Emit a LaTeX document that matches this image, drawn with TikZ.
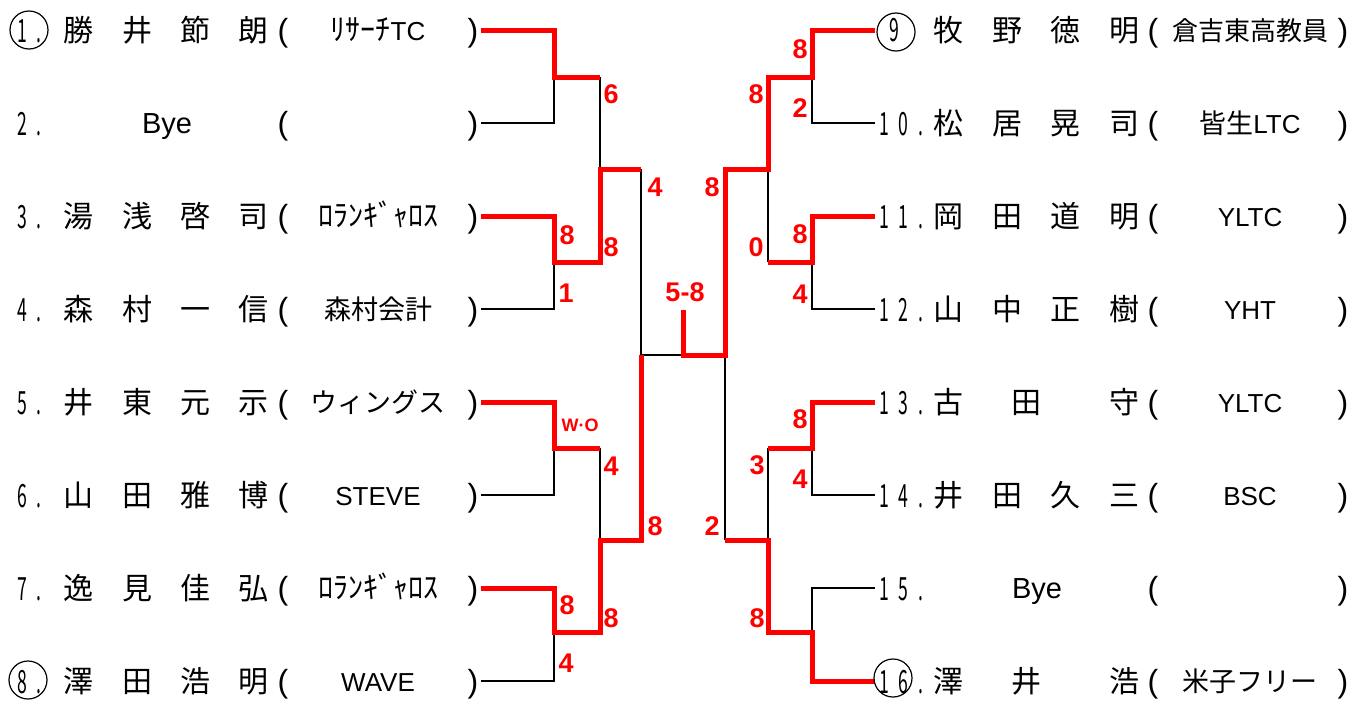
\documentclass[tikz,border=0pt]{standalone}
\usepackage{fontspec}
\setmainfont{Liberation Sans}
\newfontfamily\jp{Noto Sans CJK JP}
\newfontfamily\jpnum{Noto Sans CJK JP}[FakeStretch=0.55,LetterSpace=31]
\newcommand\hw{\jp\fontsize{30}{30}\selectfont}

\begin{document}
\begin{tikzpicture}[x=1pt,y=-1pt,
  win/.style={draw=red, line width=5pt},
  lose/.style={draw=black, line width=2.5pt},
  pt/.style={font=\jp\fontsize{30}{30}\selectfont, anchor=base, inner sep=0pt},
  no/.style={font=\jpnum\fontsize{32}{32}\selectfont, anchor=base west, inner sep=0pt},
  club/.style={font=\fontsize{26}{26}\selectfont, anchor=base, inner sep=0pt},
  paren/.style={font=\fontsize{32}{32}\selectfont, anchor=base, inner sep=0pt},
  score/.style={text=red, font=\bfseries\fontsize{27}{27}\selectfont, inner sep=0pt},
  seed/.style={circle, draw, line width=1.2pt, minimum size=38pt, inner sep=0pt}
]
\useasboundingbox (0,0) rectangle (1367,702);

% line ends of the players
\foreach \i in {1,...,8} \coordinate (p\i) at (481,93*\i-63);
\foreach \i in {9,...,16} \coordinate (p\i) at (875,93*\i-807);

% junctions
\coordinate (j1) at (554,77);  \coordinate (j2) at (554,262);
\coordinate (j3) at (554,448); \coordinate (j4) at (554,632);
\coordinate (k1) at (600,169); \coordinate (k2) at (600,540);
\coordinate (s1) at (641,355);
\coordinate (j5) at (812,77);  \coordinate (j6) at (812,262);
\coordinate (j7) at (812,448); \coordinate (j8) at (812,632);
\coordinate (k3) at (768,169); \coordinate (k4) at (768,540);
\coordinate (s2) at (725,355);
\coordinate (f) at (683,355);  \coordinate (ft) at (683,310);

\draw[lose] (p2) -| (j1) (j1 -| k1) -- (k1) (p4) -| (j2)
  (k1 -| s1) -- (s1) -- (f) (p6) -| (j3) (j3 -| k2) -- (k2) (p8) -| (j4);
\draw[lose] (p10) -| (j5) (k3) -- (j6 -| k3) (p12) -| (j6)
  (s2) -- (k4 -| s2) (p14) -| (j7) (j7 -| k4) -- (k4) (p15) -| (j8);

\draw[win] (p1) -| (j1) -- (j1 -| k1);
\draw[win] (p3) -| (j2) -- (j2 -| k1) -- (k1) -- (k1 -| s1);
\draw[win] (p5) -| (j3) -- (j3 -| k2);
\draw[win] (p7) -| (j4) -- (j4 -| k2) -- (k2) -- (k2 -| s1) -- (s1);
\draw[win] (ft) -- (f) -- (s2) -- (k3 -| s2) -- (k3) -- (j5 -| k3) -- (j5) |- (p9);
\draw[win] (p11) -| (j6) -- (j6 -| k3);
\draw[win] (p13) -| (j7) -- (j7 -| k4);
\draw[win] (k4 -| s2) -- (k4) -- (j8 -| k4) -- (j8) |- (p16);

% left half
\foreach \i/\a/\b/\c/\d/\o in {1/勝/井/節/朗/{{\hw ﾘｻｰﾁ}TC}, 3/湯/浅/啓/司/{{\hw ﾛﾗﾝｷﾞｬﾛｽ}},
  4/森/村/一/信/{{\jp\fontsize{27}{27}\selectfont 森村会計}}, 5/井/東/元/示/{{\jp\fontsize{27}{27}\selectfont ウィングス}}, 6/山/田/雅/博/STEVE,
  7/逸/見/佳/弘/{{\hw ﾛﾗﾝｷﾞｬﾛｽ}}, 8/澤/田/浩/明/WAVE}{
  \node[pt] (a\i) at (78,93*\i-52) {\a};
  \node[pt] (b\i) at (137,93*\i-52) {\b};
  \node[pt] (c\i) at (195,93*\i-52) {\c};
  \node[pt] (d\i) at (253,93*\i-52) {\d};
  \node[club] (o\i) at (378,93*\i-53) {\o};
}
\foreach \i in {1,...,8}{
  \node[no] (n\i) at (17,93*\i-51) {\i.};
  \node[paren] (lp\i) at (283,93*\i-52) {(};
  \node[paren] (rp\i) at (473,93*\i-52) {)};
}
\node[club, font=\fontsize{29}{29}\selectfont] (bye2) at (167,133) {Bye};

% right half
\foreach \i/\a/\b/\c/\d/\o in {9/牧/野/徳/明/{{\jp 倉吉東高教員}}, 10/松/居/晃/司/{{\jp\fontsize{27}{27}\selectfont 皆生}LTC},
  11/岡/田/道/明/YLTC, 12/山/中/正/樹/YHT, 14/井/田/久/三/BSC}{
  \node[pt] (a\i) at (948,93*\i-796) {\a};
  \node[pt] (b\i) at (1007,93*\i-796) {\b};
  \node[pt] (c\i) at (1065,93*\i-796) {\c};
  \node[pt] (d\i) at (1124,93*\i-796) {\d};
  \node[club] (o\i) at (1250,93*\i-797) {\o};
}
\foreach \i/\a/\b/\c/\o in {13/古/田/守/YLTC, 16/澤/井/浩/{{\jp\fontsize{27}{27}\selectfont 米子フリー}}}{
  \node[pt] (a\i) at (948,93*\i-796) {\a};
  \node[pt] (b\i) at (1026,93*\i-796) {\b};
  \node[pt] (d\i) at (1124,93*\i-796) {\c};
  \node[club] (o\i) at (1250,93*\i-797) {\o};
}
\node[no] (n9) at (889,41) {9};
\foreach \i/\t in {10/10., 11/11., 12/12., 13/13., 14/14., 15/15., 16/16.}
  \node[no] (n\i) at (879,93*\i-795) {\t};
\foreach \i in {9,...,16}{
  \node[paren] (lp\i) at (1153,93*\i-796) {(};
  \node[paren] (rp\i) at (1343,93*\i-796) {)};
}
\node[club, font=\fontsize{29}{29}\selectfont] (bye15) at (1037,598) {Bye};

% seeds
\node[seed] (q1) at (29,30) {};
\node[seed] (q8) at (28,680) {};
\node[seed] (q9) at (896,32) {};
\node[seed] (q16) at (893,678) {};

% scores
\node[score] (sa) at (611,94) {6};
\node[score] (sb) at (567,235) {8};
\node[score] (sc) at (611,247) {8};
\node[score] (sd) at (566,293) {1};
\node[score] (se) at (655,187) {4};
\node[score] (sf) at (685,292) {5-8};
\node[score, font=\bfseries\fontsize{18}{18}\selectfont] (sg) at (580,425) {W·O};
\node[score] (sh) at (611,466) {4};
\node[score] (si) at (655,526) {8};
\node[score] (sj) at (567,605) {8};
\node[score] (sk) at (611,618) {8};
\node[score] (sl) at (566,663) {4};
\node[score] (sm) at (800,49) {8};
\node[score] (sn) at (756,94) {8};
\node[score] (so) at (800,108) {2};
\node[score] (sp) at (712,187) {8};
\node[score] (sq) at (800,234) {8};
\node[score] (sr) at (756,247) {0};
\node[score] (ss) at (800,294) {4};
\node[score] (st) at (800,419) {8};
\node[score] (su) at (757,465) {3};
\node[score] (sv) at (800,479) {4};
\node[score] (sw) at (712,526) {2};
\node[score] (sx) at (757,618) {8};
\end{tikzpicture}
\end{document}
